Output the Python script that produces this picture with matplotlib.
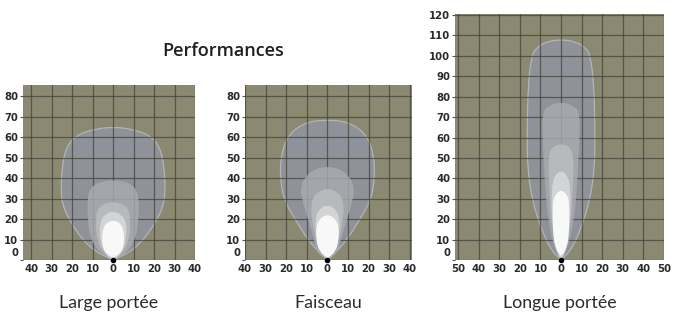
import matplotlib
matplotlib.use("Agg")
import matplotlib.pyplot as plt
import numpy as np
from matplotlib.path import Path
from matplotlib.patches import PathPatch
from matplotlib.transforms import ScaledTranslation

# --- data (distance in m, half-width of each isolux contour) ---
panel_names = ["Large portée", "Faisceau", "Longue portée"]

large_outer_y = [0, 1, 4, 10, 18, 26, 34, 45, 55, 61, 64, 65]
large_outer_w = [0, 2, 8.5, 15, 20.5, 24.5, 25.5, 25, 23, 18, 9, 0]
large_l2_y = [0, 3, 10, 20, 30, 34, 37, 38.5, 39]
large_l2_w = [0, 6, 11, 12.5, 12.5, 11.5, 9, 5, 0]
large_l3_y = [0, 3, 10, 20, 25, 27.5, 28.5]
large_l3_w = [0, 4.5, 8, 8.5, 7.5, 4.5, 0]
large_l4_y = [0, 3, 10, 18, 22, 24]
large_l4_w = [0, 4, 6.5, 6.5, 4.5, 0]
large_core_y = [1, 4, 10, 15, 18, 19.5]
large_core_w = [0, 4.5, 5.5, 5, 3.5, 0]

beam_outer_y = [0, 3, 10, 19.5, 29, 40, 52, 62, 67.5, 68.5]
beam_outer_w = [0, 3.5, 9.5, 15.5, 21, 23, 22.5, 18.5, 10, 0]
beam_l2_y = [0, 4, 10, 20, 30, 36, 41, 44.5, 45.8]
beam_l2_w = [0, 5, 6.5, 9.5, 12.5, 13, 10.5, 6, 0]
beam_l3_y = [0, 5, 12, 22, 30, 33.5, 35]
beam_l3_w = [0, 4, 6, 8, 7.5, 4.5, 0]
beam_l4_y = [0, 5, 12, 20, 25, 27]
beam_l4_w = [0, 3.5, 5.5, 6, 4, 0]
beam_core_y = [1, 4, 10, 16, 20, 22.5]
beam_core_w = [0, 4, 5.5, 5.5, 4, 0]

long_outer_y = [0, 5, 15, 29, 45, 62, 86, 100, 104, 107, 108]
long_outer_w = [0, 5, 9.5, 14, 16.3, 16.5, 16, 14.3, 12, 7, 0]
long_l2_y = [0, 5, 20, 40, 60, 72, 75.5, 77.5]
long_l2_w = [0, 3, 6.5, 8, 9, 9, 6.5, 0]
long_l3_y = [0, 5, 20, 40, 52, 55.5, 57]
long_l3_w = [0, 2.5, 5, 6, 6, 4, 0]
long_l4_y = [0, 5, 20, 35, 41, 44]
long_l4_w = [0, 2.5, 4.5, 4.5, 3.5, 0]
long_core_y = [2, 6, 15, 28, 32, 34.5]
long_core_w = [0, 3, 4, 4, 3, 0]

x_limits = [(-44, 40), (-40, 41), (-51.5, 50)]
y_limits = [(0, 85.5), (0, 85.5), (0, 120.5)]
x_ticks = [list(range(-40, 41, 10)), list(range(-40, 41, 10)), list(range(-50, 51, 10))]
y_ticks = [list(range(0, 81, 10)), list(range(0, 81, 10)), list(range(0, 121, 10))]

contours = [
    [(large_outer_y, large_outer_w), (large_l2_y, large_l2_w), (large_l3_y, large_l3_w),
     (large_l4_y, large_l4_w), (large_core_y, large_core_w)],
    [(beam_outer_y, beam_outer_w), (beam_l2_y, beam_l2_w), (beam_l3_y, beam_l3_w),
     (beam_l4_y, beam_l4_w), (beam_core_y, beam_core_w)],
    [(long_outer_y, long_outer_w), (long_l2_y, long_l2_w), (long_l3_y, long_l3_w),
     (long_l4_y, long_l4_w), (long_core_y, long_core_w)],
]

# --- style ---
BG = "#8b8971"
GRID = "#44433a"
LAYER_COLORS = ["#8f9299", "#a9acb0", "#bdbfc2", "#d8d9da", "#fbfbfb"]
LAYER_ALPHA = [1.0, 0.8, 0.8, 0.85, 0.95]
TICK_FONT = dict(family=["Liberation Sans Narrow", "DejaVu Sans"], weight="bold", size=7.3, color="#2a2a2a")
LABEL_FONT = ["Lato", "DejaVu Sans"]


def beam_path(ys, ws):
    # mirrored outline, sharp at the lamp, rounded elsewhere (quadratic curves through midpoints)
    ys = np.asarray(ys, float)
    ws = np.asarray(ws, float)
    n = len(ys)
    pts = [(-ws[j], ys[j]) for j in range(n)] + [(ws[j], ys[j]) for j in range(n - 2, 0, -1)]
    pts = np.array(pts)
    m = len(pts)
    verts = [pts[0], (pts[0] + pts[1]) / 2]
    codes = [Path.MOVETO, Path.LINETO]
    for i in range(1, m):
        nxt = pts[(i + 1) % m]
        verts += [pts[i], (pts[i] + nxt) / 2]
        codes += [Path.CURVE3, Path.CURVE3]
    verts.append(pts[0])
    codes.append(Path.LINETO)
    return Path(verts, codes)


W, H = 676, 315
boxes_px = [(23, 85, 195, 260), (245, 85, 412, 260), (455, 14, 664, 260)]

fig = plt.figure(figsize=(W / 100, H / 100), dpi=100)
fig.patch.set_facecolor("white")

for i, (x0, y0, x1, y1) in enumerate(boxes_px):
    ax = fig.add_axes([x0 / W, 1 - y1 / H, (x1 - x0) / W, (y1 - y0) / H])
    ax.set_facecolor(BG)
    ax.set_xlim(*x_limits[i])
    ax.set_ylim(*y_limits[i])
    for s in ax.spines.values():
        s.set_visible(False)

    for k, (ys, ws) in enumerate(contours[i]):
        patch = PathPatch(beam_path(ys, ws), facecolor=LAYER_COLORS[k], alpha=LAYER_ALPHA[k],
                          edgecolor="#b3b5b6" if k == 0 else "none", lw=0.9,
                          zorder=1 if k == 0 else 3)
        ax.add_patch(patch)

    ax.set_xticks(x_ticks[i])
    ax.set_yticks(y_ticks[i])
    ax.grid(True, color=GRID, lw=0.9, alpha=0.75)
    ax.set_axisbelow(False)
    for gl in ax.get_xgridlines() + ax.get_ygridlines():
        gl.set_zorder(2)

    ax.set_xticklabels([str(abs(v)) for v in x_ticks[i]], fontdict=TICK_FONT)
    ax.set_yticklabels([str(v) for v in y_ticks[i]], fontdict=TICK_FONT)
    ax.tick_params(axis="x", length=0, pad=3)
    ax.tick_params(axis="y", length=2.5, width=0.8, color="#555555", pad=1)
    zero_lbl = ax.get_yticklabels()[0]
    zero_lbl.set_transform(zero_lbl.get_transform() + ScaledTranslation(0, 6 / 72, fig.dpi_scale_trans))

    # lamp position
    ax.plot([0], [0], "o", color="black", ms=3, zorder=5, clip_on=False)

    fig.text((x0 + x1) / 2 / W, 1 - 308 / H, panel_names[i], ha="center", va="baseline",
             family=LABEL_FONT, fontsize=12.8, color="#2b2b2b")

fig.text(223 / W, 1 - 56 / H, "Performances", ha="center", va="baseline",
         family=["Open Sans", "DejaVu Sans"], fontsize=13, weight="semibold", color="#1f1f1f")

fig.savefig("out.png", dpi=100)
